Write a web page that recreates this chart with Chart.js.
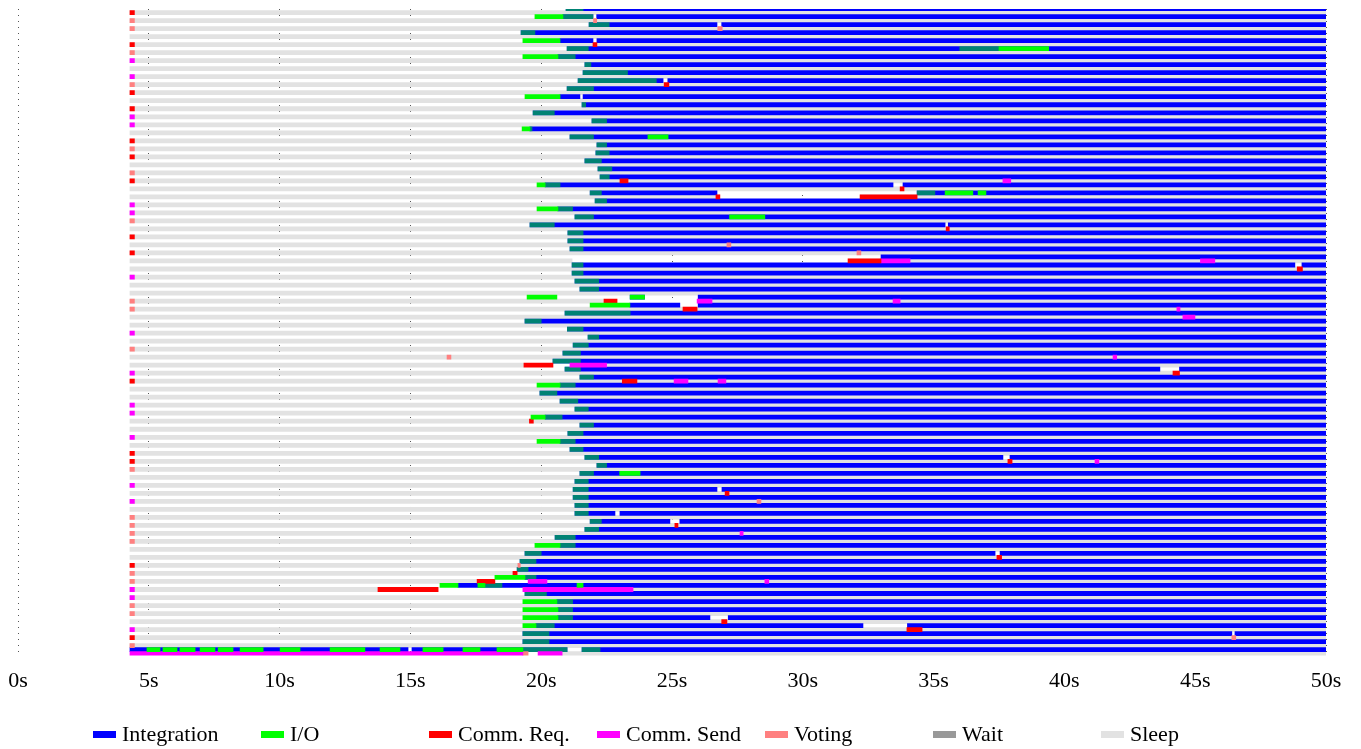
<!DOCTYPE html>
<html><head><meta charset="utf-8">
<script src="https://cdn.jsdelivr.net/npm/chart.js@4/dist/chart.umd.min.js"></script>
<style>
html,body{margin:0;padding:0;background:#fff;}
#wrap{position:relative;width:1361px;height:749px;overflow:hidden;}
#legend{position:absolute;left:93px;top:722px;display:flex;font-family:"Liberation Serif","DejaVu Serif",serif;font-size:22px;color:#000;line-height:24px;}
.item{width:168px;display:flex;align-items:center;white-space:nowrap;}
.sw{width:23px;height:7px;margin-right:6px;flex:none;}
</style></head>
<body><div id="wrap"><canvas id="c" width="1361" height="749"></canvas><div id="legend"></div></div>
<script>
// ---------------- data (seconds) ----------------
const typeNames  = ['Integration','I/O','Comm. Req.','Comm. Send','Voting','Wait','Sleep'];
const typeColors = ['#0000ff','#00ff00','#ff0000','#ff00ff','#ff8080','#999999','#e2e2e2'];
const tickValues = [0,5,10,15,20,25,30,35,40,45,50];
const END_TIME = 50;
const SLEEP_START = 4.28;
const MARK_LEN = 0.17;

// compute thread of each process (81 processes, top to bottom)
const actStart = [20.95,19.76,21.83,19.23,19.30,20.99,19.30,21.67,21.60,21.41,
  20.99,19.38,21.56,19.69,21.94,19.27,21.10,22.13,22.09,21.67,
  22.17,22.25,19.84,21.87,22.06,19.84,21.29,19.57,21.02,21.02,
  21.10,32.99,21.18,21.18,21.29,21.48,19.46,21.87,20.91,19.38,
  21.00,21.79,21.22,20.83,20.45,20.91,21.48,19.84,19.95,20.72,
  21.29,19.61,21.48,21.02,19.84,21.10,21.67,22.13,21.48,21.29,
  21.22,21.22,21.29,21.29,21.87,21.67,20.53,19.76,19.38,19.19,
  19.08,18.23,16.13,19.38,19.30,19.30,19.30,19.30,19.30,19.30,4.28];
const ioEnd = [20.95,20.83,21.83,19.23,20.72,20.99,20.64,21.67,21.60,21.41,
  20.99,20.72,21.56,19.69,21.94,19.57,21.10,22.13,22.09,21.67,
  22.17,22.25,20.15,21.87,22.06,20.64,21.29,19.57,21.02,21.02,
  21.10,32.99,21.18,21.18,21.29,21.48,20.60,23.39,20.91,19.38,
  21.00,21.79,21.22,20.83,20.45,20.91,21.48,20.72,19.95,20.72,
  21.29,20.15,21.48,21.02,20.72,21.10,21.67,22.13,21.48,21.29,
  21.22,21.22,21.29,21.29,21.87,21.67,20.53,20.72,19.38,19.19,
  19.08,19.38,16.82,19.38,20.60,20.64,20.64,19.80,19.30,19.30,4.28];
const denseEnd = [21.6,21.98,22.6,19.76,20.72,21.8,21.3,21.9,23.3,24.4,
  22.0,20.72,21.7,20.5,22.5,19.65,22.0,22.5,22.6,22.3,
  22.7,22.6,20.72,22.3,22.5,21.2,22.0,20.5,21.6,21.6,
  21.6,32.99,21.6,21.6,22.2,22.2,20.60,23.39,23.4,20.0,
  21.6,22.2,21.8,21.5,21.5,21.5,22.0,21.3,20.6,21.4,
  21.8,20.8,22.0,21.6,21.3,21.6,22.2,22.5,22.0,21.8,
  21.8,21.8,21.8,21.8,22.3,22.2,21.3,21.3,20.0,19.8,
  19.5,19.8,16.82,20.2,21.2,21.2,21.2,20.5,20.3,20.3,4.28];

// first event of each comm thread at start of sleep: R=Comm. Req., S=Comm. Send, V=Voting, .=none
const commMarks = "RVV.RVS.SV" + "R.RSS.RVR." + "VR..SSV.R." + "R..S..VV.." + "S.V..SR..S" +
                  "S..S.RRV.S" + ".S.VVVV..R" + "VVSSVV.SRV" + ".";

// periods without any state: [process, thread (0 compute, 1 comm), start, end]
const idleGaps = [
  [1,0,21.98,22.12],[2,0,26.72,26.90],[4,0,21.98,22.13],[9,0,24.66,24.84],[11,0,21.48,21.60],
  [22,0,33.45,33.83],[23,0,26.72,34.37],[23,1,26.83,32.19],[27,0,35.44,35.56],
  [31,1,21.18,31.73],[32,0,48.81,49.08],[36,0,20.60,23.40],[36,0,23.95,26.00],[36,1,22.40,26.53],
  [37,0,25.30,26.00],[44,1,19.34,22.50],[45,0,43.65,44.40],[56,0,37.65,37.92],[60,0,26.72,26.91],
  [63,0,22.82,23.01],[64,0,24.92,25.30],[68,0,37.35,37.54],[71,1,17.55,20.22],[72,1,13.76,23.51],
  [76,0,26.45,27.15],[77,0,32.30,34.00],[78,0,46.40,46.52],
  [80,0,14.91,15.06],[80,0,20.99,21.56],[80,1,4.28,20.80]
];

// other events: [process, thread, type, start, end]   (type 'dense' = dense I/O bursts)
const extraSegs = [
  [1,1,'Voting',22.00,22.12],[2,1,'Voting',26.75,26.92],[4,1,'Comm. Req.',21.98,22.13],
  [9,1,'Comm. Req.',24.70,24.88],[16,0,'I/O',24.08,24.85],
  [21,1,'Comm. Req.',23.01,23.32],[21,1,'Comm. Send',37.65,37.95],[22,1,'Comm. Req.',33.72,33.87],
  [23,1,'Comm. Req.',26.68,26.83],[23,1,'Comm. Req.',32.19,34.37],[23,0,'dense',34.37,35.05],
  [23,0,'I/O',35.44,36.50],[23,0,'I/O',36.70,37.00],[26,0,'I/O',27.20,28.55],
  [27,1,'Comm. Req.',35.48,35.60],[29,1,'Voting',27.10,27.25],[30,1,'Voting',32.07,32.22],
  [31,1,'Comm. Req.',31.73,32.99],[31,1,'Comm. Send',32.99,34.10],[31,1,'Comm. Send',45.20,45.75],
  [32,1,'Comm. Req.',48.90,49.10],[36,0,'I/O',23.40,23.95],[36,1,'Comm. Req.',22.40,22.90],
  [36,1,'Comm. Send',25.96,26.53],[36,1,'Comm. Send',33.45,33.72],[37,1,'Comm. Req.',25.42,25.96],
  [37,1,'Comm. Send',44.30,44.42],[38,1,'Comm. Send',44.53,44.99],[43,1,'Voting',16.40,16.55],
  [43,1,'Comm. Send',41.86,42.00],[44,1,'Comm. Req.',19.34,20.45],[44,1,'Comm. Send',21.10,22.50],
  [45,1,'Comm. Req.',44.15,44.40],[46,1,'Comm. Req.',23.10,23.66],[46,1,'Comm. Send',25.08,25.61],
  [46,1,'Comm. Send',26.76,27.06],[5,0,'dense',36.00,37.50],[5,0,'I/O',37.50,39.40],
  [51,1,'Comm. Req.',19.55,19.70],
  [56,1,'Comm. Req.',37.84,38.00],[61,1,'Voting',28.25,28.40],[65,1,'Comm. Send',27.60,27.72],
  [56,1,'Comm. Send',41.17,41.32],[58,0,'I/O',23.00,23.78],[60,1,'Comm. Req.',27.03,27.18],
  [64,1,'Comm. Req.',25.11,25.23],[68,1,'Comm. Req.',37.42,37.60],[69,1,'Voting',19.11,19.20],
  [70,1,'Comm. Req.',18.92,19.08],[71,1,'Comm. Req.',17.55,18.23],[71,1,'Comm. Send',19.50,20.22],
  [71,1,'Comm. Send',28.55,28.70],
  [72,1,'Comm. Req.',13.76,16.06],[72,1,'Comm. Send',19.30,23.51],[72,0,'I/O',17.58,17.85],
  [72,0,'dense',17.85,18.50],[72,0,'I/O',21.37,21.60],
  [76,1,'Comm. Req.',26.90,27.10],[77,1,'Comm. Req.',33.98,34.56],[78,1,'Voting',46.40,46.55],
  [80,0,'I/O',4.93,5.43],[80,0,'I/O',5.54,6.08],[80,0,'I/O',6.19,6.77],[80,0,'I/O',6.96,7.53],
  [80,0,'I/O',7.65,8.22],[80,0,'I/O',8.49,9.37],[80,0,'I/O',10.02,10.78],[80,0,'I/O',11.93,13.26],
  [80,0,'I/O',13.84,14.60],[80,0,'I/O',15.48,16.25],[80,0,'I/O',17.01,17.66],[80,0,'I/O',18.31,19.30],
  [80,0,'dense',19.30,20.99],[80,0,'dense',21.56,22.25],
  [80,1,'Comm. Send',4.28,19.30],[80,1,'Voting',19.30,19.50],[80,1,'Comm. Send',19.88,20.80]
];

// ---------------- build bars ----------------
const N = actStart.length;
const markType = {R:'Comm. Req.', S:'Comm. Send', V:'Voting'};
const segs = {};
function add(row, type, a, b){ if (b > a) (segs[type] = segs[type] || []).push({x:[a,b], y:row}); }
function addSplit(row, type, a, b, gaps){
  let cur = [[a,b]];
  gaps.forEach(([g0,g1]) => {
    cur = cur.flatMap(([s,e]) => {
      if (g1 <= s || g0 >= e) return [[s,e]];
      const r = []; if (g0 > s) r.push([s,g0]); if (g1 < e) r.push([g1,e]); return r;
    });
  });
  cur.forEach(([s,e]) => add(row, type, s, e));
}
for (let p = 0; p < N; p++) {
  const rc = 2*p, rm = 2*p + 1;
  const gc = idleGaps.filter(g => g[0]===p && g[1]===0).map(g => [g[2],g[3]]);
  const gm = idleGaps.filter(g => g[0]===p && g[1]===1).map(g => [g[2],g[3]]);
  addSplit(rc, 'Integration', ioEnd[p], END_TIME, gc);
  add(rc, 'I/O', actStart[p], ioEnd[p]);
  add(rc, 'dense', ioEnd[p], denseEnd[p]);
  addSplit(rm, 'Sleep', SLEEP_START, END_TIME, gm);
  const m = commMarks[p];
  if (markType[m]) add(rm, markType[m], SLEEP_START, SLEEP_START + MARK_LEN);
}
extraSegs.forEach(([p,t,type,a,b]) => add(2*p + t, type, a, b));

const orderOf = {'Sleep':5,'Integration':5,'dense':3};
const datasets = typeNames.map((name,i) => ({
  label: name, data: segs[name] || [], backgroundColor: typeColors[i],
  order: orderOf[name] || 1
}));
datasets.push({label:'I/O dense', data: segs['dense'] || [], backgroundColor:'rgba(0,210,30,0.62)', order:3});
datasets.forEach(d => Object.assign(d, {borderWidth:0, barThickness:4.1, grouped:false, clip:0,
  categoryPercentage:1, barPercentage:1}));

new Chart(document.getElementById('c'), {
  type: 'bar',
  data: { datasets },
  options: {
    responsive: false, animation: false, indexAxis: 'y',
    layout: { padding: { left: 18, right: 35, top: 9, bottom: 43 } },
    plugins: { legend: { display: false }, tooltip: { enabled: false } },
    scales: {
      x: {
        type: 'linear', min: 0, max: 50, offset: false,
        afterBuildTicks: s => { s.ticks = tickValues.map(v => ({value: v})); },
        afterFit: s => { s.paddingLeft = 0; s.paddingRight = 0; },
        border: { display: false, dash: [1,5] },
        grid: { color: '#555', lineWidth: 1, drawTicks: false, offset: false },
        ticks: { callback: v => v + 's', color: '#000', padding: 12, maxRotation: 0, autoSkip: false,
                 font: { family: 'Liberation Serif', size: 22 } }
      },
      y: { type: 'linear', reverse: true, min: 0.1, max: 161.5, offset: false, display: false,
           grid: { offset: false } }
    }
  }
});

// legend
const lg = document.getElementById('legend');
typeNames.forEach((n,i) => {
  const it = document.createElement('div'); it.className = 'item';
  const sw = document.createElement('span'); sw.className = 'sw'; sw.style.background = typeColors[i];
  const tx = document.createElement('span'); tx.textContent = n;
  it.appendChild(sw); it.appendChild(tx); lg.appendChild(it);
});
</script>
</body></html>
